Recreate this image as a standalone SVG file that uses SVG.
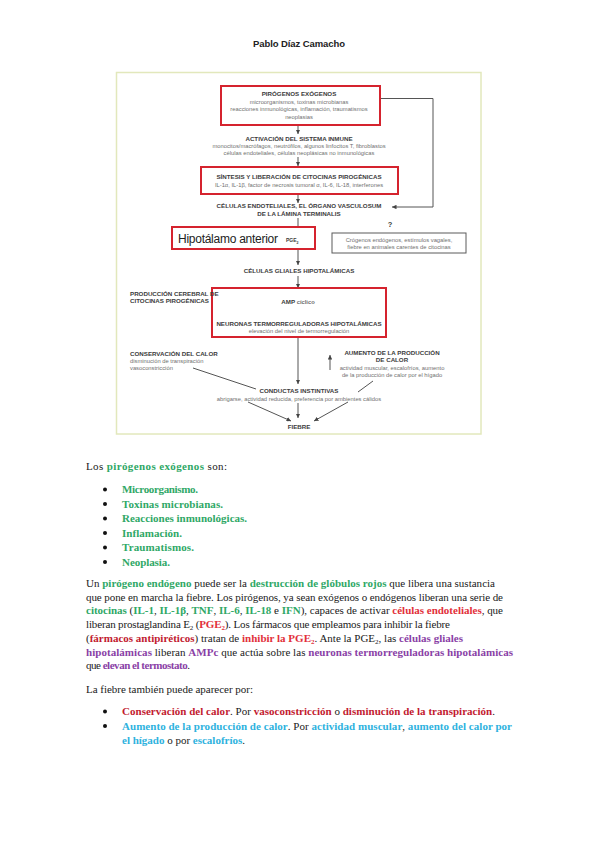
<svg xmlns="http://www.w3.org/2000/svg" width="599" height="848" viewBox="0 0 599 848">
<style>
.hdr{font-family:"Liberation Sans",Arial,sans-serif;font-weight:bold;font-size:9.5px;fill:#222}
.t{font-family:"Liberation Sans",Arial,sans-serif;font-weight:bold;font-size:6.2px;fill:#3c3c3c}
.s{font-family:"Liberation Sans",Arial,sans-serif;font-size:5.8px;fill:#707070}
.big{font-family:"Liberation Sans",Arial,sans-serif;font-size:12px;fill:#222}
.red{fill:#ffffff;stroke:#d5232e;stroke-width:2}
.gbox{fill:#ffffff;stroke:#5a5a5a;stroke-width:1}
.ln{fill:none;stroke:#555;stroke-width:1}
.b{font-family:"Liberation Serif","Times New Roman",serif;font-size:11px;fill:#1a1a1a}
.g{fill:#2fa866;font-weight:bold}
.r{fill:#e2303a;font-weight:bold}
.dr{fill:#c21a30;font-weight:bold}
.p{fill:#8a3fa6;font-weight:bold}
.c{fill:#2eb2de;font-weight:bold}
</style>
<defs>
<marker id="ah" viewBox="0 0 8 8" refX="8" refY="4" markerWidth="4.5" markerHeight="4.5" orient="auto" markerUnits="userSpaceOnUse"><path d="M0,0 L8,4 L0,8 z" fill="#444"/></marker>
</defs>
<rect width="599" height="848" fill="#ffffff"/>
<text class="hdr" x="299" y="47" text-anchor="middle" textLength="92">Pablo Díaz Camacho</text>
<rect x="116.5" y="72.5" width="364.5" height="361.5" fill="#ffffff" stroke="#e2e8bc" stroke-width="1.5"/>

<g id="connectors">
<line class="ln" x1="298" y1="125" x2="298" y2="134" marker-end="url(#ah)"/>
<line class="ln" x1="298" y1="157" x2="298" y2="166" marker-end="url(#ah)"/>
<line class="ln" x1="298" y1="194" x2="298" y2="203" marker-end="url(#ah)"/>
<polyline class="ln" points="362,98.5 433,98.5 433,207 392,207" marker-end="url(#ah)"/>
<line class="ln" x1="298" y1="218" x2="298" y2="265" marker-end="url(#ah)"/>
<line class="ln" x1="298" y1="276" x2="298" y2="288" marker-end="url(#ah)"/>
<line class="ln" x1="298" y1="307" x2="298" y2="317" marker-end="url(#ah)"/>
<line class="ln" x1="298" y1="337" x2="298" y2="384" marker-end="url(#ah)"/>
<line class="ln" x1="298" y1="403" x2="298" y2="418" marker-end="url(#ah)"/>
<line class="ln" x1="193" y1="368" x2="256" y2="389"/>
<line class="ln" x1="248" y1="402" x2="291" y2="421" marker-end="url(#ah)"/>
<line class="ln" x1="330" y1="370" x2="330" y2="355" marker-end="url(#ah)"/>
<line class="ln" x1="373" y1="381" x2="358" y2="392"/>
<line class="ln" x1="348" y1="402" x2="314" y2="421" marker-end="url(#ah)"/>
</g>

<g id="pirogenos-exogenos">
<rect class="red" x="221" y="86" width="159" height="39" fill="none"/>
<text class="t" x="299" y="96" text-anchor="middle">PIRÓGENOS EXÓGENOS</text>
<text class="s" x="299" y="103.5" text-anchor="middle">microorganismos, toxinas microbianas</text>
<text class="s" x="299" y="111" text-anchor="middle">reacciones inmunológicas, inflamación, traumatismos</text>
<text class="s" x="299" y="118.5" text-anchor="middle">neoplasias</text>
</g>

<g id="activacion">
<text class="t" x="299" y="141" text-anchor="middle">ACTIVACIÓN DEL SISTEMA INMUNE</text>
<text class="s" x="299" y="148" text-anchor="middle">monocitos/macrófagos, neutrófilos, algunos linfocitos T, fibroblastos</text>
<text class="s" x="299" y="155" text-anchor="middle">células endoteliales, células neoplásicas no inmunológicas</text>
</g>

<g id="sintesis">
<rect class="red" x="201" y="167" width="197" height="27"/>
<text class="t" x="299" y="178.5" text-anchor="middle">SÍNTESIS Y LIBERACIÓN DE CITOCINAS PIROGÉNICAS</text>
<text class="s" x="299" y="186.5" text-anchor="middle">IL-1α, IL-1β, factor de necrosis tumoral α, IL-6, IL-18, interferones</text>
</g>

<g id="celulas-endoteliales">
<text class="t" x="299" y="208" text-anchor="middle">CÉLULAS ENDOTELIALES, EL ÓRGANO VASCULOSUM</text>
<text class="t" x="299" y="215.5" text-anchor="middle">DE LA LÁMINA TERMINALIS</text>
</g>

<g id="hipotalamo">
<rect class="red" x="172" y="227" width="143" height="22"/>
<text class="big" x="178" y="242.5" textLength="100">Hipotálamo anterior</text>
<text class="t" x="286" y="242" style="font-size:5px">PGE<tspan dy="1.5" style="font-size:3.5px">2</tspan></text>
</g>

<g id="otros">
<text class="t" x="390" y="227" text-anchor="middle" style="font-size:7.5px">?</text>
<rect class="gbox" x="332" y="233" width="134" height="20"/>
<text class="s" x="399" y="241.5" text-anchor="middle">Crógenos endógenos, estímulos vagales,</text>
<text class="s" x="399" y="249" text-anchor="middle">fiebre en animales carentes de citocinas</text>
</g>

<g id="gliales">
<text class="t" x="299" y="273" text-anchor="middle">CÉLULAS GLIALES HIPOTALÁMICAS</text>
</g>

<g id="neuronas">
<rect class="red" x="212" y="288" width="174" height="49"/>
<text class="t" x="298" y="304" text-anchor="middle">AMP <tspan class="s">cíclico</tspan></text>
<text class="t" x="299" y="325.5" text-anchor="middle">NEURONAS TERMORREGULADORAS HIPOTALÁMICAS</text>
<text class="s" x="299" y="333" text-anchor="middle">elevación del nivel de termorregulación</text>
</g>

<g id="produccion-cerebral">
<text class="t" x="130" y="295.5">PRODUCCIÓN CEREBRAL DE</text>
<text class="t" x="130" y="303">CITOCINAS PIROGÉNICAS</text>
</g>

<g id="conservacion">
<text class="t" x="130" y="355.5">CONSERVACIÓN DEL CALOR</text>
<text class="s" x="130" y="362.5">disminución de transpiración</text>
<text class="s" x="130" y="369.5">vasoconstricción</text>
</g>

<g id="aumento">
<text class="t" x="392" y="355" text-anchor="middle">AUMENTO DE LA PRODUCCIÓN</text>
<text class="t" x="392" y="362" text-anchor="middle">DE CALOR</text>
<text class="s" x="392" y="369.5" text-anchor="middle">actividad muscular, escalofríos, aumento</text>
<text class="s" x="392" y="377" text-anchor="middle">de la producción de calor por el hígado</text>
</g>

<g id="conductas">
<text class="t" x="299" y="392.5" text-anchor="middle">CONDUCTAS INSTINTIVAS</text>
<text class="s" x="299" y="400.5" text-anchor="middle">abrigarse, actividad reducida, preferencia por ambientes cálidos</text>
</g>

<g id="fiebre">
<text class="t" x="299" y="429" text-anchor="middle">FIEBRE</text>
</g>

<g id="texto">
<text class="b" x="86" y="469.5" textLength="141">Los <tspan class="g">pirógenos exógenos</tspan> son:</text>
<g fill="#111">
<circle cx="105" cy="489.5" r="2"/><circle cx="105" cy="504" r="2"/><circle cx="105" cy="518.5" r="2"/>
<circle cx="105" cy="533" r="2"/><circle cx="105" cy="547.5" r="2"/><circle cx="105" cy="562" r="2"/>
<circle cx="105" cy="711.5" r="2"/><circle cx="105" cy="726" r="2"/>
</g>
<text class="b g" x="122" y="493" textLength="76">Microorganismo.</text>
<text class="b g" x="122" y="507.5" textLength="101">Toxinas microbianas.</text>
<text class="b g" x="122" y="522" textLength="125">Reacciones inmunológicas.</text>
<text class="b g" x="122" y="536.5" textLength="60">Inflamación.</text>
<text class="b g" x="122" y="551" textLength="72">Traumatismos.</text>
<text class="b g" x="122" y="565.5" textLength="48">Neoplasia.</text>

<text class="b" x="86" y="587" textLength="409">Un <tspan class="g">pirógeno endógeno</tspan> puede ser la <tspan class="g">destrucción de glóbulos rojos</tspan> que libera una sustancia</text>
<text class="b" x="86" y="600.7" textLength="417">que pone en marcha la fiebre. Los pirógenos, ya sean exógenos o endógenos liberan una serie de</text>
<text class="b" x="86" y="614.4" textLength="417"><tspan class="g">citocinas</tspan> (<tspan class="g">IL-1</tspan>, <tspan class="g">IL-1β</tspan>, <tspan class="g">TNF</tspan>, <tspan class="g">IL-6</tspan>, <tspan class="g">IL-18</tspan> e <tspan class="g">IFN</tspan>), capaces de activar <tspan class="r">células endoteliales</tspan>, que</text>
<text class="b" x="86" y="628.1" textLength="364">liberan prostaglandina E<tspan dy="2" style="font-size:7px">2</tspan><tspan dy="-2"> (</tspan><tspan class="r">PGE<tspan dy="2" style="font-size:7px">2</tspan></tspan><tspan dy="-2">). Los fármacos que empleamos para inhibir la fiebre</tspan></text>
<text class="b" x="86" y="641.8" textLength="377">(<tspan class="dr">fármacos antipiréticos</tspan>) tratan de <tspan class="r">inhibir la PGE<tspan dy="2" style="font-size:7px">2</tspan></tspan><tspan dy="-2">. Ante la PGE</tspan><tspan dy="2" style="font-size:7px">2</tspan><tspan dy="-2">, las </tspan><tspan class="p">células gliales</tspan></text>
<text class="b" x="86" y="655.5" textLength="427"><tspan class="p">hipotalámicas</tspan> liberan <tspan class="p">AMPc</tspan> que actúa sobre las <tspan class="p">neuronas termorreguladoras hipotalámicas</tspan></text>
<text class="b" x="86" y="669.2" textLength="104">que <tspan class="p">elevan el termostato</tspan>.</text>

<text class="b" x="86" y="692.5" textLength="167">La fiebre también puede aparecer por:</text>
<text class="b" x="122" y="715" textLength="373"><tspan class="dr">Conservación del calor</tspan>. Por <tspan class="dr">vasoconstricción</tspan> o <tspan class="dr">disminución de la transpiración</tspan>.</text>
<text class="b" x="122" y="729.5" textLength="390"><tspan class="c">Aumento de la producción de calor</tspan>. Por <tspan class="c">actividad muscular</tspan>, <tspan class="c">aumento del calor por</tspan></text>
<text class="b" x="122" y="744" textLength="123"><tspan class="c">el hígado</tspan> o por <tspan class="c">escalofríos</tspan>.</text>
</g>
</svg>
